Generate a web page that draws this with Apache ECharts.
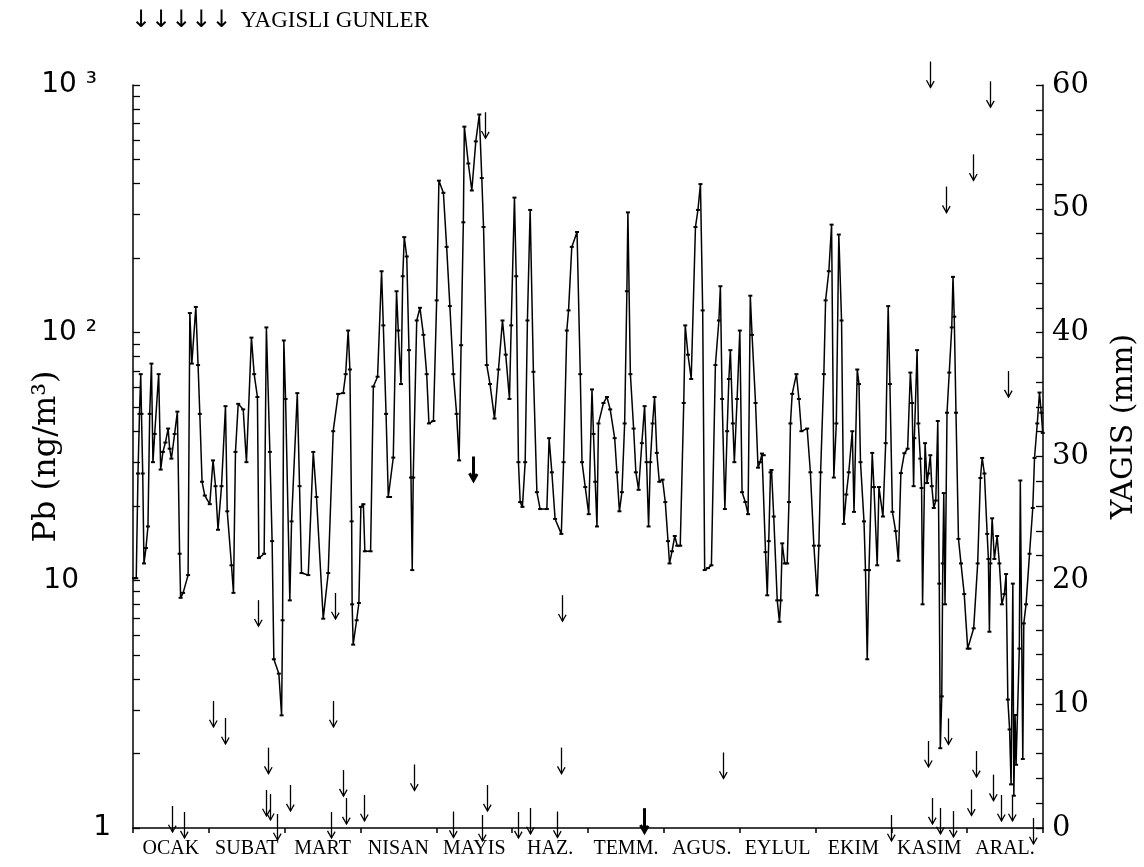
<!DOCTYPE html>
<html>
<head>
<meta charset="utf-8">
<script src="https://cdn.jsdelivr.net/npm/echarts@6/dist/echarts.min.js"></script>
<style>html,body{margin:0;padding:0;background:#fff}#c{width:1144px;height:867px}</style>
</head>
<body>
<div id="c"></div>
<script>
// Month labels (categories)
const months = ['OCAK','SUBAT','MART','NISAN','MAYIS','HAZ.','TEMM.','AGUS.','EYLUL','EKIM','KASIM','ARAL.'];
// Left axis tick labels (log scale)
const pbTickValues = [1, 10, 100, 1000];
const pbTickLabels = ['1', '10', '10 ²', '10 ³'];
// Daily Pb concentration (ng/m3): day of year, value
const pbDays = [
0.4,1.3,2.0,2.6,3.1,3.4,3.9,4.4,5.2,6.0,6.7,7.4,8.0,8.7,10.3,11.1,12.0,13.0,14.1,14.7,15.4,16.7,17.8,18.7,19.1,20.1,22.1,22.8,23.6,25.2,26.1,26.8,27.7,28.8,30.8,32.1,33.1,34.1,35.5,37.1,37.8,39.5,40.3,41.1,42.2,44.2,45.5,47.5,48.6,49.9,50.5,52.6,53.5,54.9,55.8,56.5,58.5,59.6,60.0,60.5,61.2,62.9,63.6,65.9,66.8,67.6,70.3,72.3,73.6,76.3,78.3,80.3,82.3,84.3,85.3,86.3,
87.0,87.7,87.9,88.3,89.7,90.6,91.4,92.4,93.0,95.3,96.4,98.1,99.7,100.4,101.5,102.4,103.1,104.4,105.7,106.4,107.5,108.2,108.8,109.8,110.7,111.5,112.0,112.4,113.8,115.1,116.5,117.8,118.7,120.5,121.8,122.7,124.5,125.8,127.1,128.5,129.8,130.8,131.6,132.5,132.9,134.5,135.9,137.5,138.9,139.9,140.6,141.9,143.2,145.0,146.6,148.2,149.5,151.0,151.7,153.0,153.7,154.6,155.3,156.2,157.3,158.2,159.3,160.6,162.0,163.3,166.0,
166.9,168.0,169.3,171.8,172.7,174.0,174.7,176.0,178.1,179.4,180.1,181.4,182.8,184.1,184.7,185.4,186.1,186.7,188.7,190.1,191.4,193.2,194.1,195.1,196.1,197.2,198.1,198.5,199.5,200.8,201.7,202.8,204.1,205.2,206.0,206.8,207.5,208.4,209.2,210.1,211.1,212.4,213.5,214.6,215.2,216.2,217.3,218.3,219.5,220.9,221.5,222.6,223.9,225.6,226.6,227.6,228.5,229.3,230.6,232.0,233.6,235.0,235.6,236.3,237.4,238.3,239.0,239.6,240.6,241.2,242.3,243.4,244.3,245.6,246.7,247.6,248.3,249.7,250.7,
251.5,252.3,253.0,253.7,254.4,255.0,255.7,256.1,257.0,258.4,259.3,259.8,260.4,261.4,262.4,263.1,263.7,264.4,266.1,267.1,268.1,270.4,271.7,273.1,274.4,275.1,275.8,277.1,277.8,279.1,280.2,281.1,282.1,283.1,284.2,285.1,286.1,287.1,288.5,289.2,290.5,291.2,291.8,293.2,293.8,294.5,295.2,296.5,297.2,298.5,299.2,300.8,301.9,302.9,303.6,304.6,305.9,307.0,
308.0,309.4,310.7,311.8,312.5,313.1,313.4,314.5,315.0,315.8,316.3,316.7,317.7,318.5,319.0,319.8,320.4,321.2,322.0,322.8,323.4,323.8,324.4,324.8,325.2,325.7,326.5,327.4,328.4,328.9,329.4,330.1,331.1,332.1,333.4,334.8,335.5,337.2,338.8,339.9,340.6,341.5,342.6,343.1,343.5,343.9,344.6,345.5,346.6,347.5,348.5,349.5,350.2,350.9,351.6,352.2,352.9,353.3,353.8,354.2,355.5,355.9,356.9,357.3,358.2,359.6,360.9,361.6,362.7,363.6,364.3,364.9
];
const pbValues = [
10.2,10.2,27,47,68,47,27,11.7,13.5,16.5,47,75,30,39,68,28,33,36,41,34,31,39,48,12.8,8.5,8.9,10.5,120,75,127,74,47,25,22,20.3,30.5,24,16,24,50.5,19,11.5,8.9,33,51.6,49,30,95.5,68,55,12.3,12.8,105,33,14.4,4.8,4.2,2.85,6.9,93,54,8.3,17.3,57,24,10.7,10.5,33,21.7,7.0,10.7,40,56.6,57,68,102,
71,17.3,8.0,5.5,6.9,8.1,19.8,20.3,13.1,13.1,60.6,66.4,177,107,47,21.7,21.7,31.3,147,102,62,169,243,203,85,26,11,26,112,126,98,68,43,44,135,411,367,222,128,68,47,30.5,89,279,679,482,375,592,760,421,267,74,62,45,71,112,81.5,54,107,351,169,30,20.7,19.8,30,112,313,69.5,22.7,19.4,19.4,
37.5,27.3,17.7,15.4,30,102,123,222,255,68,30,23.8,18.5,59,39,25,16.5,43,52,55,49,37.5,27.3,19,22.7,43,147,306,68,41,27.3,23.2,35.8,50.5,30,16.5,30,43,55,32.7,25,25.5,20.7,14.4,11.7,13.1,15.1,13.8,13.8,52,107,81.5,65,267,313,398,123,11,11.2,11.5,74,112,154,54,19.4,40,65,85,43,30,54,102,22.7,20.7,18.5,141,98,52,28.5,
30,32.5,32,13,8.7,14.4,27.3,27.9,18.1,8.3,6.8,8.3,14.1,11.7,11.7,20.7,43,56.6,68,54,40,41,27.3,13.8,8.7,13.8,27.3,68,135,177,273,26,43,249,112,16.9,22.2,27.3,40,18.9,71,62,30,17.3,11,4.8,11,32.7,23.8,11.5,23.8,18.1,35.8,128,62,18.9,15.8,12,
27.1,32.6,34,69,52,24,37.5,85,43,31,23.6,8.0,35.8,24.7,27,32,24,19.6,21,44,9.7,2.1,3.4,11.7,22.5,8,47.5,69,105,168,116,47.5,14.7,11.7,8.8,5.3,5.3,6.4,11.7,25.9,31.2,27,15.4,12.2,6.2,11.7,17.8,12.2,15.1,11.7,8,8.8,10.6,3.3,2.5,1.5,9.7,1.35,2.86,1.8,5.3,25.3,1.9,6.7,8,12.8,19.6,31.2,43,57.3,47.5,39.4
];
// Rainy days (arrows): day of year, rainfall (mm)
const rainDays = [15.5,20.5,32.1,37.1,50.2,53.2,54.2,55.0,57.6,62.9,79.4,80.3,81.0,84.1,85.5,92.6,112.7,128.5,140.0,141.2,142.0,154.6,159.2,170.0,171.7,171.9,236.5,304.0,318.8,319.7,320.5,323.7,325.9,327.0,328.9,336.1,337.1,338.2,343.6,344.8,348.2,350.8,352.6,361.0];
const rainMm = [1.78,1.29,10.26,8.89,18.4,3.07,6.49,2.75,1.13,3.47,1.29,10.26,18.98,4.68,2.42,2.67,5.13,1.33,1.05,57.8,3.47,1.29,1.62,1.33,6.49,18.8,6.1,1.05,7.03,61.9,2.42,1.62,51.8,8.85,1.37,3.11,54.4,6.22,60.3,4.31,2.67,36.9,2.67,0.81];
// Clustered rainy days (drawn heavier)
const heavyRainDays = [136.5, 205.1];
const heavyRainMm = [30.0, 1.6];
// Right axis tick labels
const rainTickValues = [0,10,20,30,40,50,60];

const chart = echarts.init(document.getElementById('c'));
const pbData = pbDays.map((d,i)=>[d, pbValues[i]]);
const rainData = rainDays.map((d,i)=>[d, rainMm[i]]);
const heavyData = heavyRainDays.map((d,i)=>[d, heavyRainMm[i]]);
const minorLog = [];
for (let e = 0; e < 3; e++) for (let k = 1; k < 10; k++) minorLog.push(k * Math.pow(10, e));
minorLog.push(1000);
const rainTicks = [];
for (let v = 0; v <= 60; v += 2) rainTicks.push(v);

function arrowRenderer(lw, len, head) {
  return function(params, api) {
    const p = api.coord([api.value(0), api.value(1)]);
    const x = Math.round(p[0]) + 0.5, y = p[1];
    return {
      type: 'group',
      children: [
        {type: 'line', shape: {x1: x, y1: y, x2: x, y2: y + len}, style: {stroke: '#000', lineWidth: lw}},
        {type: 'polyline', shape: {points: [[x - head, y + len - head * 1.8], [x, y + len], [x + head * 0.9, y + len - head * 1.6]]}, style: {stroke: '#000', fill: null, lineWidth: lw}}
      ]
    };
  };
}

const serif = 'Liberation Serif';
chart.setOption({
  animation: false,
  backgroundColor: '#fff',
  title: {
    text: '{a|↓↓↓↓↓} {b|YAGISLI GUNLER}',
    left: 126, top: 4,
    textStyle: {
      fontWeight: 'normal',
      rich: {
        a: {fontFamily: 'DejaVu Sans', fontSize: 24, color: '#000', fontWeight: 'normal'},
        b: {fontFamily: serif, fontSize: 23, color: '#000', fontWeight: 'normal', padding: [0, 0, 0, 4]}
      }
    }
  },
  grid: {left: 133, right: 101, top: 85, bottom: 39, containLabel: false, outerBoundsMode: 'none'},
  xAxis: [
    {
      type: 'category', data: months, boundaryGap: true, position: 'bottom',
      axisLine: {lineStyle: {color: '#000', width: 1.5}},
      axisTick: {show: true, inside: false, length: 5, lineStyle: {color: '#000', width: 1.5}},
      axisLabel: {color: '#000', fontFamily: serif, fontSize: 20, margin: 11, interval: 0}
    },
    {type: 'value', min: 0, max: 365, show: false}
  ],
  yAxis: [
    {
      type: 'log', logBase: 10, min: 1, max: 1000, position: 'left',
      name: 'Pb (ng/m³)', nameLocation: 'middle', nameRotate: 90, nameGap: 70, nameMoveOverlap: false,
      nameTextStyle: {color: '#000', fontFamily: 'DejaVu Serif', fontSize: 32},
      axisLine: {show: true, lineStyle: {color: '#000', width: 1.5}},
      axisTick: {show: true, inside: true, length: 7, customValues: minorLog, lineStyle: {color: '#000', width: 1.3}},
      splitLine: {show: false},
      axisLabel: {
        color: '#000', margin: 22, customValues: pbTickValues,
        formatter: function (v) {
          const i = pbTickValues.indexOf(v);
          const t = i >= 0 ? pbTickLabels[i] : String(v);
          if (t === '1') return '{a|1}';
          if (t === '10') return '{a|10}{p|}';
          return '{a|' + t + '}{q|}';
        },
        rich: {
          a: {fontFamily: 'DejaVu Sans', fontSize: 28, color: '#000'},
          p: {width: 32},
          q: {width: 14}
        }
      }
    },
    {
      type: 'value', min: 0, max: 60, interval: 10, position: 'right',
      name: 'YAGIS (mm)', nameLocation: 'middle', nameRotate: 90, nameGap: 66, nameMoveOverlap: false,
      nameTextStyle: {color: '#000', fontFamily: 'DejaVu Serif', fontSize: 30, padding: [0, 0, 0, 60]},
      axisLine: {show: true, lineStyle: {color: '#000', width: 1.5}},
      axisTick: {show: true, inside: true, length: 7, customValues: rainTicks, lineStyle: {color: '#000', width: 1.3}},
      splitLine: {show: false},
      axisLabel: {color: '#000', fontFamily: 'DejaVu Serif', fontSize: 29, margin: 9, customValues: rainTickValues}
    }
  ],
  series: [
    {
      type: 'line', xAxisIndex: 1, yAxisIndex: 0, data: pbData,
      showSymbol: true, symbol: 'rect', symbolSize: [4, 2],
      itemStyle: {color: '#000'},
      lineStyle: {color: '#000', width: 1.5},
      clip: false, z: 3
    },
    {
      type: 'custom', xAxisIndex: 1, yAxisIndex: 1, data: rainData,
      renderItem: arrowRenderer(1.3, 26, 4), clip: false, z: 4
    },
    {
      type: 'custom', xAxisIndex: 1, yAxisIndex: 1, data: heavyData,
      renderItem: arrowRenderer(3, 24, 4), clip: false, z: 4
    }
  ]
});
</script>
</body>
</html>
